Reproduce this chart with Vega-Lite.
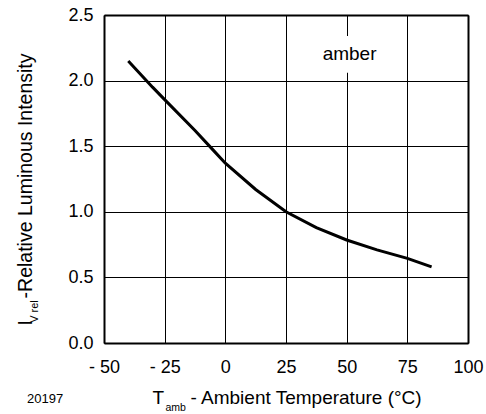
{
  "$schema": "https://vega.github.io/schema/vega-lite/v6.json",
  "width": 364,
  "height": 328,
  "autosize": {"type": "none"},
  "padding": {"left": 104, "top": 15, "right": 18, "bottom": 71},
  "background": "white",
  "config": {
    "font": "Liberation Sans",
    "view": {"stroke": null},
    "axis": {
      "domain": true,
      "domainColor": "black",
      "domainWidth": 2,
      "ticks": false,
      "gridColor": "black",
      "gridOpacity": 1,
      "gridWidth": 1,
      "labelColor": "black",
      "titleColor": "black",
      "labelFontSize": 18,
      "titleFontSize": 19,
      "titleFontWeight": "normal",
      "labelFont": "Liberation Sans",
      "titleFont": "Liberation Sans",
      "labelOverlap": false,
      "labelBound": false,
      "labelFlush": false
    }
  },
  "title": {
    "text": "20197",
    "orient": "bottom",
    "anchor": "start",
    "frame": "group",
    "fontSize": 13,
    "fontWeight": "normal",
    "font": "Liberation Sans",
    "color": "black",
    "dx": -77,
    "dy": -24
  },
  "resolve": {"axis": {"x": "independent", "y": "independent"}},
  "layer": [
    {
      "data": {"values": [{}]},
      "mark": {"type": "rect", "color": "white"},
      "encoding": {
        "x": {"datum": 40, "type": "quantitative", "scale": {"domain": [-50, 100], "nice": false}, "axis": null},
        "x2": {"datum": 63},
        "y": {"datum": 2.06, "type": "quantitative", "scale": {"domain": [0, 2.5], "nice": false}, "axis": null},
        "y2": {"datum": 2.34}
      }
    },
    {
      "data": {
        "values": [
          {"T": -40, "I": 2.15},
          {"T": -30, "I": 1.95},
          {"T": -25, "I": 1.855},
          {"T": -12.5, "I": 1.62},
          {"T": -5, "I": 1.47},
          {"T": 0, "I": 1.37},
          {"T": 12.5, "I": 1.17},
          {"T": 25, "I": 1.0},
          {"T": 37.5, "I": 0.88},
          {"T": 50, "I": 0.785},
          {"T": 62.5, "I": 0.71},
          {"T": 75, "I": 0.645},
          {"T": 85, "I": 0.58}
        ]
      },
      "mark": {"type": "line", "color": "black", "strokeWidth": 3},
      "encoding": {
        "x": {
          "field": "T",
          "type": "quantitative",
          "scale": {"domain": [-50, 100], "nice": false},
          "axis": {
            "grid": true,
            "values": [-50, -25, 0, 25, 50, 75, 100],
            "labelExpr": "datum.value < 0 ? '- ' + abs(datum.value) : datum.label",
            "labelPadding": 15,
            "title": "T\u00a0\u00a0\u00a0\u00a0\u00a0- Ambient Temperature (°C)",
            "titleAlign": "left",
            "titleBaseline": "middle",
            "titleX": 48,
            "titleY": 54
          }
        },
        "y": {
          "field": "I",
          "type": "quantitative",
          "scale": {"domain": [0, 2.5], "nice": false},
          "axis": {
            "grid": true,
            "values": [0, 0.5, 1, 1.5, 2, 2.5],
            "format": ".1f",
            "labelPadding": 11,
            "title": "I\u00a0\u00a0\u00a0\u00a0-Relative Luminous Intensity",
            "titleFontSize": 19.5,
            "titleAngle": -90,
            "titleAlign": "left",
            "titleBaseline": "middle",
            "titleX": -79,
            "titleY": 310
          }
        }
      }
    },
    {
      "data": {"values": [{}]},
      "mark": {"type": "text", "fontSize": 19, "font": "Liberation Sans", "color": "black", "align": "center", "baseline": "middle"},
      "encoding": {
        "text": {"value": "amber"},
        "x": {
          "datum": 51.2,
          "type": "quantitative",
          "axis": {
            "orient": "top",
            "grid": false,
            "labels": false,
            "title": "amb",
            "titleFontSize": 10.5,
            "titleAlign": "left",
            "titleBaseline": "middle",
            "titleAngle": 0,
            "titleX": 61,
            "titleY": 392
          }
        },
        "y": {
          "datum": 2.2,
          "type": "quantitative",
          "axis": {
            "orient": "right",
            "grid": false,
            "labels": false,
            "title": "V rel",
            "titleFontSize": 11,
            "titleAlign": "center",
            "titleBaseline": "middle",
            "titleAngle": -90,
            "titleX": -434,
            "titleY": 296
          }
        }
      }
    }
  ]
}
